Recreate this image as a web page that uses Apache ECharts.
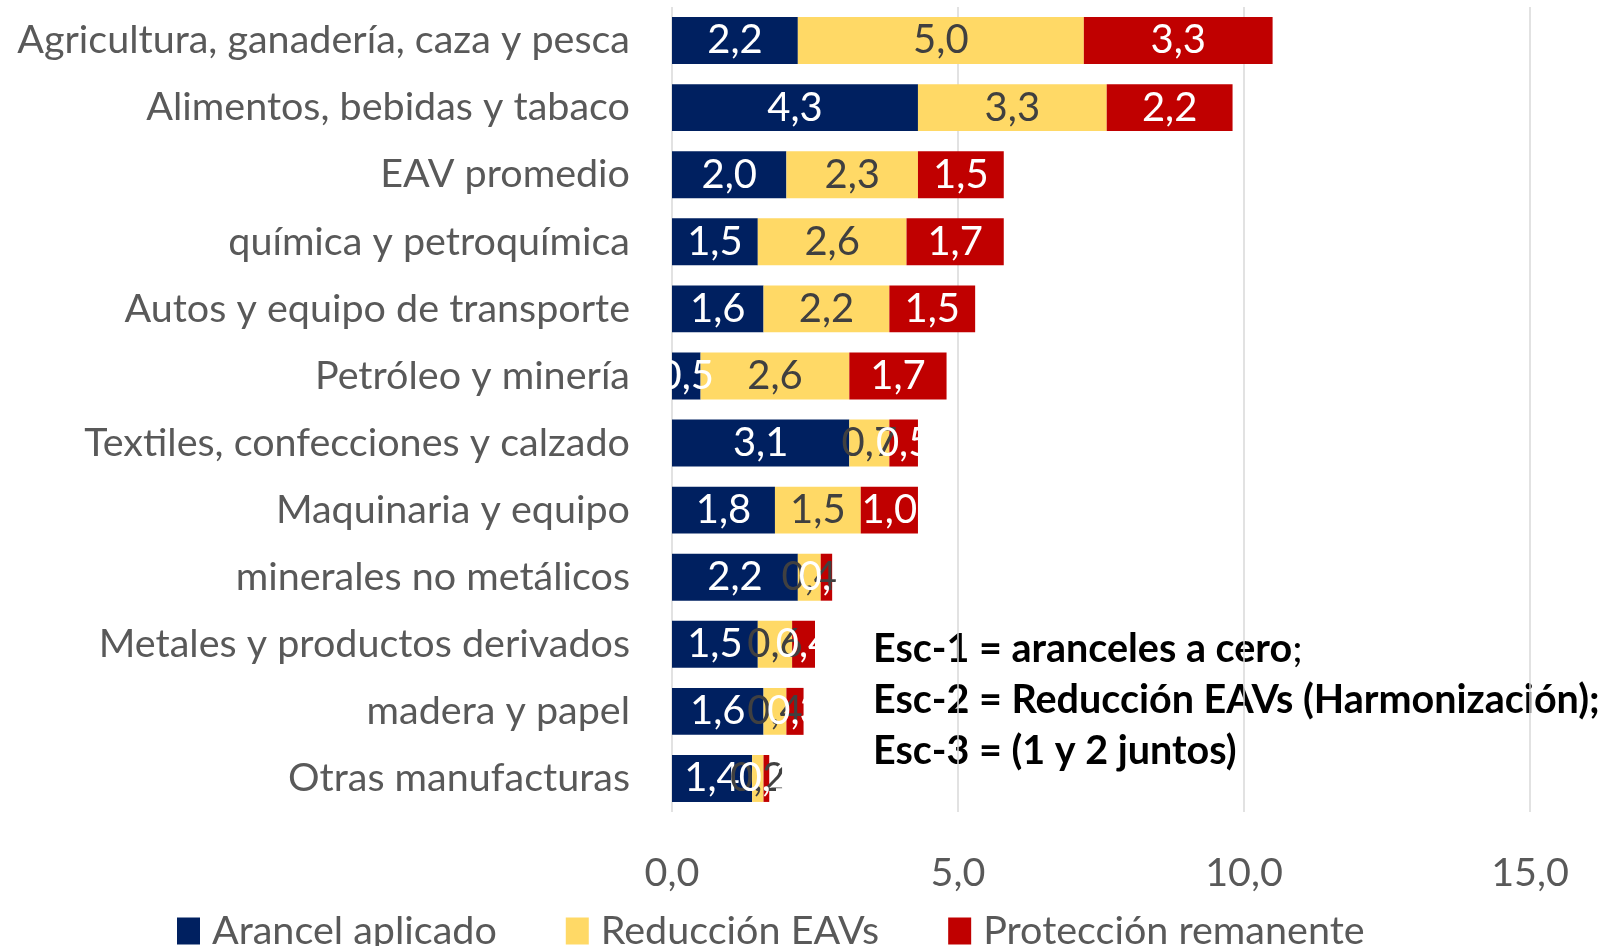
<!DOCTYPE html>
<html lang="es">
<head>
    <meta charset="UTF-8">
    <title>Protección arancelaria por sector</title>
    <style>
        html, body { margin: 0; padding: 0; background: #fff; }
        #main { width: 1610px; height: 946px; }
    </style>
</head>
<body>
    <div id="main"></div>
<script src="https://cdn.jsdelivr.net/npm/echarts@6/dist/echarts.min.js"></script>
<script>
    // categorias de arriba hacia abajo
    var sectores = [
        'Agricultura, ganadería, caza y pesca',
        'Alimentos, bebidas y tabaco',
        'EAV promedio',
        'química y petroquímica',
        'Autos y equipo de transporte',
        'Petróleo y minería',
        'Textiles, confecciones y calzado',
        'Maquinaria y equipo',
        'minerales no metálicos',
        'Metales y productos derivados',
        'madera y papel',
        'Otras manufacturas'
    ];
    var arancel   = [2.2, 4.3, 2.0, 1.5, 1.6, 0.5, 3.1, 1.8, 2.2, 1.5, 1.6, 1.4];
    var reduccion = [5.0, 3.3, 2.3, 2.6, 2.2, 2.6, 0.7, 1.5, 0.4, 0.6, 0.4, 0.2];
    var remanente = [3.3, 2.2, 1.5, 1.7, 1.5, 1.7, 0.5, 1.0, 0.2, 0.4, 0.3, 0.1];
    var ticks = ['0,0', '5,0', '10,0', '15,0'];

    var fuente = 'Lato';
    var gris = '#595959';
    var tam = 39.5;

    function fmt(v) { return v.toFixed(1).replace('.', ','); }

    function serie(nombre, datos, color, colorTexto) {
        return {
            name: nombre,
            type: 'bar',
            stack: 'total',
            barCategoryGap: '30%',
            data: datos,
            itemStyle: { color: color },
            label: {
                show: true,
                position: 'inside',
                color: colorTexto,
                fontFamily: fuente,
                fontSize: 40,
                formatter: function (p) { return fmt(p.value); }
            }
        };
    }

    var myChart = echarts.init(document.getElementById('main'));
    var option = {
        animation: false,
        grid: { left: 672, right: 80, top: 7, height: 805 },
        xAxis: {
            type: 'value',
            min: 0,
            max: 15,
            interval: 5,
            axisLine: { show: false },
            axisTick: { show: false },
            splitLine: { lineStyle: { color: '#D9D9D9', width: 1.5 } },
            axisLabel: {
                color: gris,
                fontFamily: fuente,
                fontSize: tam,
                margin: 41,
                formatter: function (v) { return ticks[v / 5]; }
            }
        },
        yAxis: {
            type: 'category',
            inverse: true,
            data: sectores,
            axisLine: { show: false },
            axisTick: { show: false },
            axisLabel: {
                color: gris,
                fontFamily: fuente,
                fontSize: tam,
                margin: 42
            }
        },
        legend: {
            left: 177,
            top: 911,
            padding: 0,
            itemWidth: 23,
            itemHeight: 27,
            itemGap: 69,
            icon: 'rect',
            textStyle: { color: gris, fontFamily: fuente, fontSize: tam, padding: [0, 0, 0, 7] },
            data: ['Arancel aplicado', 'Reducción EAVs', 'Protección remanente']
        },
        graphic: [{
            type: 'text',
            left: 873,
            top: 624,
            style: {
                text: '{b|Esc-1 = aranceles a cero}{n|;}\n{b|Esc-2 = Reducción EAVs (Harmonización);}\n{b|Esc-3 = (1 y 2 juntos)}',
                fontFamily: fuente,
                fill: '#000',
                lineHeight: 51,
                rich: {
                    b: { fontFamily: fuente, fontSize: tam, fontWeight: 'bold', fill: '#000', lineHeight: 51 },
                    n: { fontFamily: fuente, fontSize: tam, fill: '#000', lineHeight: 51 }
                }
            }
        }],
        series: [
            serie('Arancel aplicado', arancel, '#002060', '#FFFFFF'),
            serie('Reducción EAVs', reduccion, '#FFD966', '#404040'),
            serie('Protección remanente', remanente, '#C00000', '#FFFFFF')
        ]
    };
    myChart.setOption(option);
</script>
</body>
</html>
